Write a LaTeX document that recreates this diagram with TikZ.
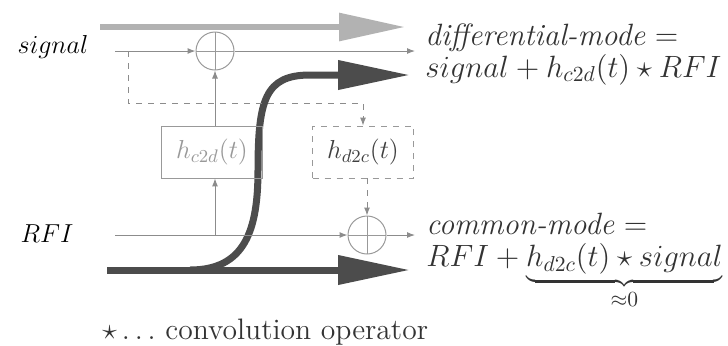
\documentclass[tikz,border=0pt]{standalone}
\usepackage{fix-cm}
\usetikzlibrary{arrows.meta}

\begin{document}
\begin{tikzpicture}[x=0.5pt,y=-0.5pt,
  every node/.style={font=\fontsize{13}{15.5}\selectfont},
  big text/.style={font=\fontsize{15.4}{16}\selectfont,text=black!80,inner sep=0pt},
  thin line/.style={draw=black!45,line width=0.5pt},
  small arrow/.style={-{Latex[length=4pt,width=3pt]}},
  sum/.style={draw=black!40,circle,minimum size=19pt,inner sep=0pt,line width=0.5pt,
    path picture={\draw[black!40] (path picture bounding box.north) -- (path picture bounding box.south)
      (path picture bounding box.west) -- (path picture bounding box.east);}},
  filt/.style={draw=black!40,minimum width=50.5pt,minimum height=26pt,inner sep=0pt},
  big arrow/.style={line width=3.5pt,-{Triangle[length=36pt,width=14pt]}}]
\useasboundingbox (0,0) rectangle (728,345);

% the thick paths
\draw[big arrow,black!30,line width=3pt,-{Triangle[length=33pt,width=13.5pt]}] (100,27) -- (405,27);
\coordinate (cmin) at (107,270);
\coordinate (cmout) at (410,270);
\coordinate (bend) at (190,270);
\coordinate (dmout) at (410,75);
\draw[big arrow,black!70] (cmin) -- (cmout);
\draw[big arrow,black!70] (bend) .. controls (245,270) and (258,230) .. (258,170)
  .. controls (258,100) and (265,75) .. (310,75) -- (dmout);

\node[anchor=base] (sig) at (53,53) {$signal$};
\node[anchor=base] (rfi) at (47,242) {$RFI$};
\node[sum] (s1) at (215,51) {};
\node[sum] (s2) at (367,235) {};
\node[filt,text=black!40] (hc) at (212,152) {$h_{c2d}(t)$};
\node[filt,dashed,text=black!75] (hd) at (363,152) {$h_{d2c}(t)$};
\coordinate (sigin) at (115,51);
\coordinate (sigout) at (415,51);
\coordinate (rfiin) at (115,235);
\coordinate (rfiout) at (415,235);
\coordinate (tap) at (128,51);

\draw[thin line,small arrow] (sigin) -- (s1);
\draw[thin line,small arrow] (s1) -- (sigout);
\draw[thin line,small arrow] (rfiin) -- (s2);
\draw[thin line,small arrow] (s2) -- (rfiout);
\draw[thin line,small arrow] (s1 |- rfiin) -- (hc.south -| s1);
\draw[thin line,small arrow] (hc.north -| s1) -- (s1);
\draw[thin line,dashed,small arrow] (tap) -- ++(0,52) -| (hd.north);
\draw[thin line,dashed,small arrow] (hd.south -| s2) -- (s2);

\node[big text,anchor=north west,align=left] (dm) at (425,23)
  {\textit{differential-mode} $=$\\ $signal + h_{c2d}(t)\star RFI$};
\node[big text,anchor=north west,align=left] (cm) at (426,213)
  {\textit{common-mode} $=$\\ $RFI + \underbrace{h_{d2c}(t)\star signal}_{\approx 0}$};
\node[big text,font=\fontsize{14.8}{16}\selectfont,anchor=base west] (note) at (102,339)
  {$\star\ldots$ convolution operator};
\end{tikzpicture}
\end{document}
